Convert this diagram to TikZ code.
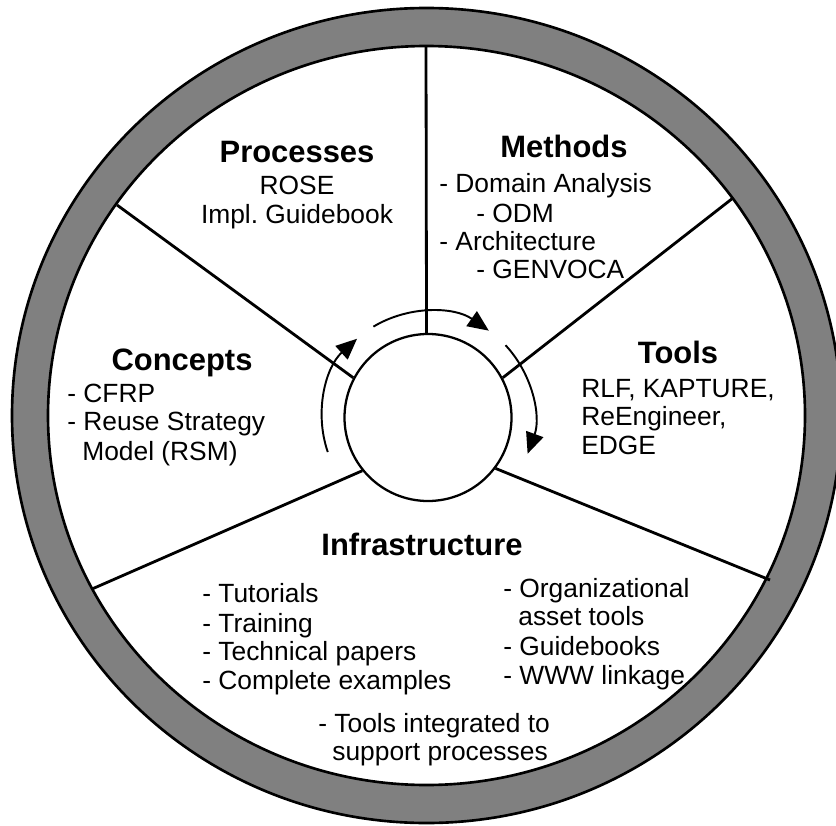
\documentclass[tikz,border=0pt]{standalone}
\usepackage{fontspec}
\setmainfont{Liberation Sans}
\usepackage{tikz}
\usetikzlibrary{arrows.meta}
\frenchspacing
\tikzset{
  ring/.style    = {draw=black, fill=black!50, line width=1.5pt, even odd rule},
  hubring/.style = {circle, draw=black, fill=white, line width=1.3pt, minimum size=3.34cm, inner sep=0pt},
  spoke/.style   = {draw=black, line width=1.6pt},
  turn/.style    = {draw=black, line width=1.1pt, -{Triangle[length=0.42cm,width=0.36cm]}},
  sect/.style    = {font=\fontsize{17.6}{20}\selectfont\bfseries, anchor=base, inner sep=0pt},
  item/.style    = {font=\fontsize{15}{17}\selectfont, anchor=base west, inner sep=0pt},
  itemc/.style   = {font=\fontsize{15}{17}\selectfont, anchor=base, inner sep=0pt},
}
\begin{document}
\begin{tikzpicture}[x=1cm,y=1cm]
  \useasboundingbox (0,0) rectangle (16.72,16.5);
  \clip (0,0) rectangle (16.72,16.5);

  % outer band and hub
  \draw[ring] (8.53,8.19) ellipse [x radius=8.29, y radius=8.15]
              (8.53,8.19) ellipse [x radius=7.57, y radius=7.39];
  \node[hubring] (hub) at (8.56,8.15) {};

  % spokes
  \draw[spoke] (hub.91)    -- (8.52,15.56);
  \draw[spoke] (hub.152.5) -- (2.34,12.40);
  \draw[spoke] (hub.28.4)  -- (14.66,12.54);
  \draw[spoke] (hub.-37.7) -- (15.40,4.90);
  \draw[spoke] (hub.219.5) -- (1.84,4.72);

  % turning arrows round the hub
  \foreach \a/\b in {121/55, 43/-20, 199/132} {
    \draw[turn] ([shift={(\a:2.12)}]hub.center) arc[start angle=\a, end angle=\b, radius=2.12];
  }

  % Processes
  \node[sect] (proc) at (5.94,13.24) {Processes};
  \node[itemc] (rose) at (5.94,12.60) {ROSE};
  \node[itemc] (impl) at (5.94,12.02) {Impl. Guidebook};

  % Methods
  \node[sect] (meth) at (11.28,13.34) {Methods};
  \foreach \t/\x/\y [count=\i] in {{- Domain Analysis}/8.78/12.64, {- ODM}/9.52/12.06,
      {- Architecture}/8.78/11.50, {- GENVOCA}/9.52/10.94} {
    \node[item] (meth\i) at (\x,\y) {\t};
  }

  % Tools
  \node[sect] (tool) at (13.56,9.24) {Tools};
  \foreach \t/\y [count=\i] in {{RLF, KAPTURE,}/8.56, {ReEngineer,}/8.00, {EDGE}/7.42} {
    \node[item] (tool\i) at (11.62,\y) {\t};
  }

  % Concepts
  \node[sect] (conc) at (3.64,9.10) {Concepts};
  \foreach \t/\x/\y [count=\i] in {{- CFRP}/1.34/8.46, {- Reuse Strategy}/1.34/7.90,
      {Model (RSM)}/1.64/7.30} {
    \node[item] (conc\i) at (\x,\y) {\t};
  }

  % Infrastructure
  \node[sect] (infra) at (8.44,5.40) {Infrastructure};
  \foreach \t/\y [count=\i] in {{- Tutorials}/4.46, {- Training}/3.86,
      {- Technical papers}/3.30, {- Complete examples}/2.72} {
    \node[item] (infl\i) at (4.04,\y) {\t};
  }
  \foreach \t/\x/\y [count=\i] in {{- Organizational}/10.06/4.56, {asset tools}/10.36/4.00,
      {- Guidebooks}/10.06/3.40, {- WWW linkage}/10.06/2.82} {
    \node[item] (infr\i) at (\x,\y) {\t};
  }
  \node[item] (infb1) at (6.36,1.86) {- Tools integrated to};
  \node[item] (infb2) at (6.64,1.30) {support processes};
\end{tikzpicture}
\end{document}
